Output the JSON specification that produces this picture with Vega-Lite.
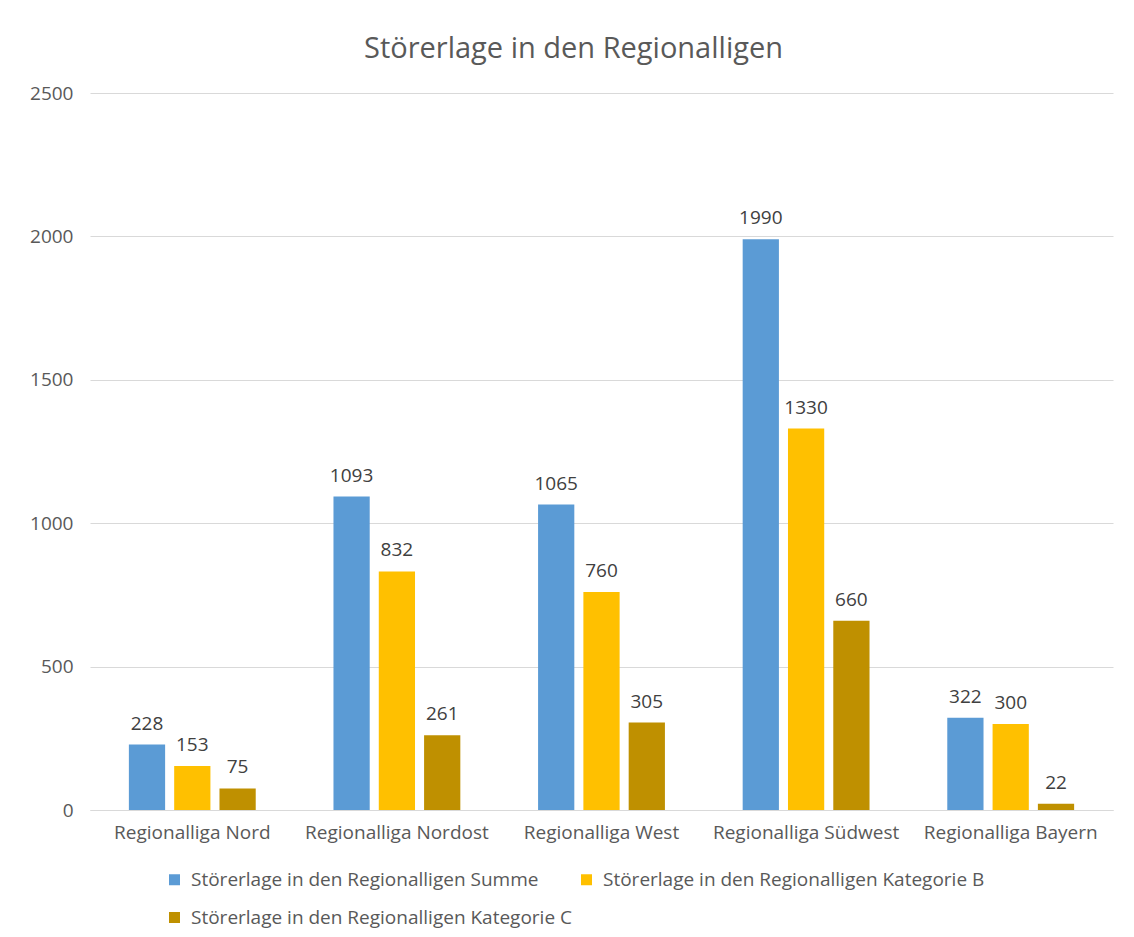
{
  "$schema": "https://vega.github.io/schema/vega-lite/v6.json",
  "autosize": "none",
  "width": 1023,
  "height": 717,
  "padding": {"left": 90, "top": 93, "right": 21, "bottom": 127},
  "background": "white",
  "title": {"text": "Störerlage in den Regionalligen", "fontSize": 29, "font": "Open Sans", "fontWeight": "normal", "color": "#595959", "anchor": "middle", "offset": 20, "dx": -28, "frame": "group"},
  "data": {"values": [
    {"liga": "Regionalliga Nord", "serie": "Störerlage in den Regionalligen Summe", "wert": 228},
    {"liga": "Regionalliga Nord", "serie": "Störerlage in den Regionalligen Kategorie B", "wert": 153},
    {"liga": "Regionalliga Nord", "serie": "Störerlage in den Regionalligen Kategorie C", "wert": 75},
    {"liga": "Regionalliga Nordost", "serie": "Störerlage in den Regionalligen Summe", "wert": 1093},
    {"liga": "Regionalliga Nordost", "serie": "Störerlage in den Regionalligen Kategorie B", "wert": 832},
    {"liga": "Regionalliga Nordost", "serie": "Störerlage in den Regionalligen Kategorie C", "wert": 261},
    {"liga": "Regionalliga West", "serie": "Störerlage in den Regionalligen Summe", "wert": 1065},
    {"liga": "Regionalliga West", "serie": "Störerlage in den Regionalligen Kategorie B", "wert": 760},
    {"liga": "Regionalliga West", "serie": "Störerlage in den Regionalligen Kategorie C", "wert": 305},
    {"liga": "Regionalliga Südwest", "serie": "Störerlage in den Regionalligen Summe", "wert": 1990},
    {"liga": "Regionalliga Südwest", "serie": "Störerlage in den Regionalligen Kategorie B", "wert": 1330},
    {"liga": "Regionalliga Südwest", "serie": "Störerlage in den Regionalligen Kategorie C", "wert": 660},
    {"liga": "Regionalliga Bayern", "serie": "Störerlage in den Regionalligen Summe", "wert": 322},
    {"liga": "Regionalliga Bayern", "serie": "Störerlage in den Regionalligen Kategorie B", "wert": 300},
    {"liga": "Regionalliga Bayern", "serie": "Störerlage in den Regionalligen Kategorie C", "wert": 22}
  ]},
  "encoding": {
    "x": {"field": "liga", "type": "nominal", "sort": null,
      "scale": {"paddingInner": 0.38, "paddingOuter": 0.19},
      "axis": {"title": null, "labelAngle": 0, "ticks": false, "domainColor": "#d9d9d9", "labelFontSize": 19, "labelFont": "Open Sans", "labelColor": "#595959", "labelPadding": 13, "labelLimit": 300}},
    "xOffset": {"field": "serie", "type": "nominal", "sort": null, "scale": {"paddingInner": 0.2, "paddingOuter": 0}},
    "y": {"field": "wert", "type": "quantitative",
      "scale": {"domain": [0, 2500], "nice": false},
      "axis": {"title": null, "values": [0, 500, 1000, 1500, 2000, 2500], "format": "d", "ticks": false, "domain": false, "gridColor": "#d9d9d9", "labelFontSize": 19, "labelFont": "Open Sans", "labelColor": "#595959", "labelPadding": 17}}
  },
  "layer": [
    {"mark": {"type": "bar"},
     "encoding": {"color": {"field": "serie", "type": "nominal", "sort": null,
        "scale": {"domain": ["Störerlage in den Regionalligen Summe", "Störerlage in den Regionalligen Kategorie B", "Störerlage in den Regionalligen Kategorie C"], "range": ["#5B9BD5", "#FFC000", "#BF9000"]},
        "legend": {"title": null, "orient": "none", "legendX": 75, "legendY": 777, "direction": "horizontal", "columns": 2, "columnPadding": 5, "rowPadding": 18, "symbolType": "square", "symbolSize": 121, "symbolStrokeWidth": 0, "labelFontSize": 19, "labelFont": "Open Sans", "labelColor": "#595959", "labelLimit": 600, "labelOffset": 7}}}},
    {"mark": {"type": "text", "baseline": "bottom", "dy": -11, "fontSize": 19, "font": "Open Sans", "color": "#404040"},
     "encoding": {"text": {"field": "wert", "type": "quantitative"}}}
  ],
  "config": {"view": {"stroke": null}}
}
